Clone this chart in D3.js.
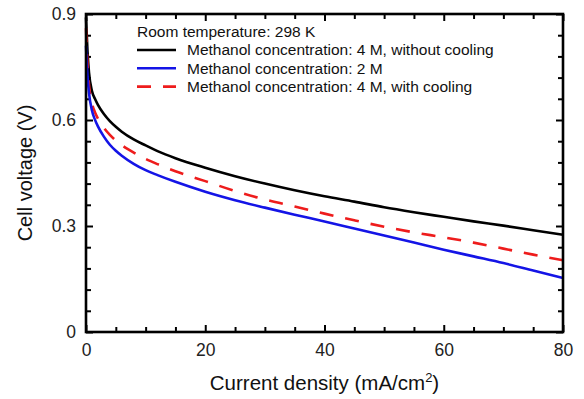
<!DOCTYPE html>
<html lang="en">
<head>
    <meta charset="UTF-8">
    <title>Cell voltage vs current density</title>
    <style>
        body {
            margin: 0;
            background-color: #fff;
            font-family: 'Liberation Sans', Arial, sans-serif;
        }

        .axis text {
            font: 17.5px 'Liberation Sans', Arial, sans-serif;
            fill: #222;
        }

        .axis line {
            stroke: #000;
            stroke-width: 2;
        }
    </style>
</head>
<body>

<div id="chart"></div>

<script src="https://d3js.org/d3.v7.min.js"></script>
<script>
    // Current density (mA/cm2) sample points, shared by all three curves
    const currentDensity = [0, 0.25, 0.5, 1, 1.5, 2, 3, 4, 5, 6, 8, 10, 12, 15, 20, 25, 30, 35, 40, 45, 50, 55, 60, 65, 70, 75, 80];

    // Cell voltage (V)
    const voltage4MNoCooling = [0.89, 0.795, 0.735, 0.682, 0.66, 0.643, 0.617, 0.597, 0.581, 0.567, 0.545, 0.528, 0.512, 0.492, 0.465, 0.441, 0.420, 0.401, 0.384, 0.369, 0.353, 0.339, 0.326, 0.313, 0.301, 0.288, 0.275];
    const voltage2M = [0.81, 0.725, 0.677, 0.627, 0.601, 0.582, 0.553, 0.530, 0.513, 0.499, 0.476, 0.458, 0.444, 0.425, 0.397, 0.373, 0.352, 0.332, 0.313, 0.293, 0.273, 0.253, 0.233, 0.214, 0.195, 0.174, 0.153];
    const voltage4MCooling = [0.86, 0.76, 0.70, 0.648, 0.622, 0.604, 0.578, 0.558, 0.542, 0.529, 0.508, 0.490, 0.475, 0.455, 0.427, 0.399, 0.375, 0.355, 0.335, 0.316, 0.298, 0.282, 0.268, 0.253, 0.236, 0.219, 0.203];

    const seriesNames = [
        "Methanol concentration: 4 M, without cooling",
        "Methanol concentration: 2 M",
        "Methanol concentration: 4 M, with cooling"
    ];
    const seriesColors = ["#000000", "#1414e6", "#ee1c1c"];
    const seriesDash = [null, null, "14,12"];
    const seriesValues = [voltage4MNoCooling, voltage2M, voltage4MCooling];

    const xMajorTicks = [0, 20, 40, 60, 80];
    const yMajorTicks = [0, 0.3, 0.6, 0.9];
    const legendTitle = "Room temperature: 298 K";

    const width = 584;
    const height = 399;
    const margin = { top: 14, right: 21, bottom: 67, left: 86 };
    const innerW = width - margin.left - margin.right;
    const innerH = height - margin.top - margin.bottom;

    const svg = d3.select("#chart")
        .append("svg")
        .attr("width", width)
        .attr("height", height);

    const g = svg.append("g")
        .attr("transform", `translate(${margin.left},${margin.top})`);

    const x = d3.scaleLinear().domain([0, 80]).range([0, innerW]);
    const y = d3.scaleLinear().domain([0, 0.9]).range([innerH, 0]);

    const xMinor = d3.range(0, 80.01, 5).filter(v => !xMajorTicks.includes(v));
    const yMinor = d3.range(0, 0.901, 0.06).map(v => +v.toFixed(2)).filter(v => !yMajorTicks.some(t => Math.abs(t - v) < 1e-6));

    // Inward ticks on all four sides
    function addAxis(axis, transform, labels) {
        const a = g.append("g")
            .attr("class", "axis")
            .attr("transform", transform)
            .call(axis);
        a.select(".domain").remove();
        if (!labels) a.selectAll("text").remove();
        return a;
    }

    addAxis(d3.axisBottom(x).tickValues(xMajorTicks).tickSize(-7).tickPadding(12).tickFormat(d3.format("d")), `translate(0,${innerH})`, true);
    addAxis(d3.axisBottom(x).tickValues(xMinor).tickSize(-5), `translate(0,${innerH})`, false);
    addAxis(d3.axisTop(x).tickValues(xMajorTicks).tickSize(-7), "translate(0,0)", false);
    addAxis(d3.axisTop(x).tickValues(xMinor).tickSize(-5), "translate(0,0)", false);

    addAxis(d3.axisLeft(y).tickValues(yMajorTicks).tickSize(-7).tickPadding(10).tickFormat(d => d === 0 ? "0" : d3.format(".1f")(d)), "translate(0,0)", true);
    addAxis(d3.axisLeft(y).tickValues(yMinor).tickSize(-5), "translate(0,0)", false);
    addAxis(d3.axisRight(y).tickValues(yMajorTicks).tickSize(-7), `translate(${innerW},0)`, false);
    addAxis(d3.axisRight(y).tickValues(yMinor).tickSize(-5), `translate(${innerW},0)`, false);

    // Curves
    const line = d3.line()
        .x((d, i) => x(currentDensity[i]))
        .y(d => y(d))
        .curve(d3.curveMonotoneX);

    const drawOrder = [0, 2, 1];
    drawOrder.forEach(k => {
        g.append("path")
            .datum(seriesValues[k])
            .attr("fill", "none")
            .attr("stroke", seriesColors[k])
            .attr("stroke-width", 2.6)
            .attr("stroke-dasharray", seriesDash[k])
            .attr("d", line);
    });

    // Frame
    g.append("rect")
        .attr("width", innerW)
        .attr("height", innerH)
        .attr("fill", "none")
        .attr("stroke", "#000")
        .attr("stroke-width", 2.6);

    // Legend
    const legend = svg.append("g")
        .attr("transform", "translate(137,32)");

    legend.append("text")
        .attr("x", 0)
        .attr("y", 0)
        .attr("dy", "0.35em")
        .style("font-size", "15.5px")
        .attr("fill", "#111")
        .text(legendTitle);

    seriesNames.forEach((name, i) => {
        const row = legend.append("g")
            .attr("transform", `translate(0,${18 + i * 18.3})`);
        row.append("line")
            .attr("x1", 0)
            .attr("x2", 39)
            .attr("stroke", seriesColors[i])
            .attr("stroke-width", 2.6)
            .attr("stroke-dasharray", seriesDash[i]);
        row.append("text")
            .attr("x", 50)
            .attr("dy", "0.35em")
            .style("font-size", "15.5px")
            .attr("fill", "#111")
            .text(name);
    });

    // Axis titles
    const xTitle = svg.append("text")
        .attr("x", margin.left + innerW / 2)
        .attr("y", 390)
        .attr("text-anchor", "middle")
        .style("font-size", "20.5px")
        .attr("fill", "#111")
        .text("Current density (mA/cm");
    xTitle.append("tspan")
        .attr("dy", -8)
        .style("font-size", "13px")
        .text("2");
    xTitle.append("tspan")
        .attr("dy", 8)
        .text(")");

    svg.append("text")
        .attr("transform", `translate(32,${margin.top + innerH / 2}) rotate(-90)`)
        .attr("text-anchor", "middle")
        .style("font-size", "20px")
        .attr("fill", "#111")
        .text("Cell voltage (V)");
</script>

</body>
</html>
